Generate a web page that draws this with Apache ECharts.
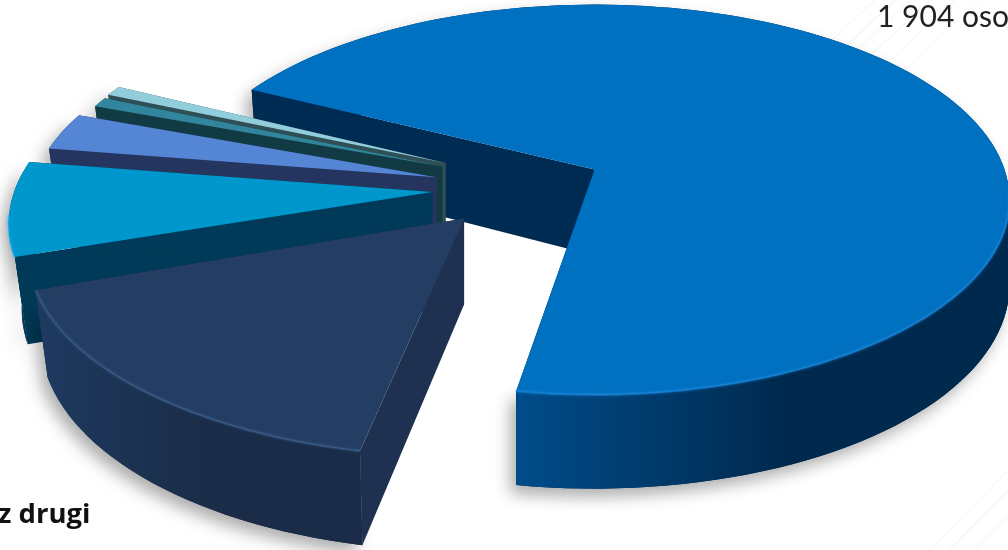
<!DOCTYPE html>
<html><head><meta charset="utf-8">
<style>html,body{margin:0;padding:0;background:#fff;overflow:hidden}#c{width:1008px;height:550px}</style>
<script src="https://cdn.jsdelivr.net/npm/echarts@6/dist/echarts.min.js"></script>
</head><body><div id="c"></div>
<script>
// Data (clockwise from the large slice)
const sliceNames = ['Slice 1', 'Slice 2', 'Slice 3', 'Slice 4', 'Slice 5', 'Slice 6'];
const sliceValues = [1904, 458, 218, 86, 23, 23];
const labelTexts = ['1 904 osoby', 'z drugi'];

// Styles (same order as the data)
const explode = [0.259, 0.16, 0.166, 0.16, 0.16, 0.16];
const nudgeX = [0, 6, 0, 0, 3, 5];
const nudgeY = [4, 7, 1, -3, -10, -12];
const radiusScale = [1, 1.05, 1.02, 0.98, 0.95, 0.95];
const padStart = [0, 2.4, 1.3, 0, 0, 0];
const topColors = ['#0070C0', '#243E63', '#0097CC', '#5585D5', '#31859C', '#92CDDC'];
const rimColors = ['#1a8ae0', '#3c6090', '#00a8ec', '#6b98e0', '#3c96ad', '#a4d8e4'];
const wallNear = ['#004C8A', '#1E3A60', '#005272', '#25355F', '#123A44', '#3A5A60'];
const wallFar = ['#00294E', '#1A2C47', '#003A58', '#25355F', '#123A44', '#3A5A60'];
const radialWall = ['#002B52', '#1E3150', '#003A58', '#25355F', '#123A44', '#2F4F55'];
// Far slices are painted first so nearer slices overlap them
const paintOrder = [0, 5, 4, 3, 2, 1];

// Projection of the tilted disc onto the page
const view = { cx: 500, cy: 188, A: 410, B: 190.4, k: 0.154, start: 296.6, vanishX: 440, lean: 0.03 };
const total = sliceValues.reduce((a, b) => a + b, 0);
const angles = [];
sliceValues.reduce((acc, v, i) => {
  const e = acc + v / total * 360;
  angles[i] = [acc, e];
  return e;
}, view.start);

const rad = d => d * Math.PI / 180;
function height(y) { return 84 + 10 * y; }
function project(ax, ay, th, r) {
  const x = r * Math.sin(rad(th)), y = -r * Math.cos(rad(th));
  const w = 1 - view.k * y;
  return { x: ax + view.A * x / w, y: ay + view.B * y / w, h: height(y), ny: y };
}
const lower = p => [p.x < view.vanishX ? p.x + (view.vanishX - p.x) * view.lean : p.x, p.y + p.h];

function renderItem(params, api) {
  const i = paintOrder[params.dataIndex];
  const mid = (angles[i][0] + angles[i][1]) / 2;
  const s = angles[i][0] + padStart[i], e = angles[i][1];
  const ax = view.cx + view.A * explode[i] * Math.sin(rad(mid)) + nudgeX[i];
  const ay = view.cy - view.B * explode[i] * Math.cos(rad(mid)) + nudgeY[i];
  const steps = Math.max(4, Math.ceil((e - s) / 2));
  const arc = [];
  for (let t = 0; t <= steps; t++) arc.push(project(ax, ay, s + (e - s) * t / steps, radiusScale[i]));
  const apexH = height(0) + 2;
  const first = arc[0], last = arc[arc.length - 1];
  const near = arc.filter(p => p.ny > 0.1);
  const rim = arc.filter(p => p.ny > 0.1);
  const xs = near.map(p => p.x);
  const outer = pts => pts.map(p => [p.x, p.y]).concat(pts.slice().reverse().map(lower));
  const apexLow = [ax, ay + apexH];
  const children = [
    { type: 'polygon', shape: { points: outer(arc) },
      style: { fill: wallFar[i], shadowBlur: 16, shadowColor: 'rgba(0,0,0,0.32)', shadowOffsetX: -6, shadowOffsetY: 8 } },
    { type: 'polygon', shape: { points: [[first.x, first.y], [ax, ay], apexLow, lower(first)] },
      style: { fill: radialWall[i] } },
    { type: 'polygon', shape: { points: [[last.x, last.y], [ax, ay], apexLow, lower(last)] },
      style: { fill: radialWall[i] } }
  ];
  if (near.length > 1) {
    const minX = Math.min(...xs), maxX = Math.max(...xs);
    const grad = new echarts.graphic.LinearGradient(minX, 0, minX + (maxX - minX) * 0.55, 0,
      [{ offset: 0, color: wallNear[i] }, { offset: 1, color: wallFar[i] }], true);
    children.push({ type: 'polygon', shape: { points: outer(near) }, style: { fill: grad } });
  }
  children.push({ type: 'polygon', shape: { points: [[ax, ay]].concat(arc.map(p => [p.x, p.y])) },
    style: { fill: topColors[i] } });
  if (rim.length > 1) {
    children.push({ type: 'polyline', shape: { points: rim.map(p => [p.x, p.y]) },
      style: { fill: null, stroke: rimColors[i], lineWidth: 2, opacity: 0.55, shadowBlur: 3, shadowColor: rimColors[i] } });
  }
  return { type: 'group', children };
}

// Faint diagonal streaks of the page background
const streak = (x1, y1, x2, y2, op) => ({
  type: 'line', silent: true, z: -1,
  shape: { x1, y1, x2, y2 },
  style: { stroke: 'rgba(120,120,120,' + op + ')', lineWidth: 2 }
});
const streaks = [
  streak(800, 70, 875, 0, 0.04), streak(815, 75, 895, 0, 0.05), streak(835, 70, 910, 0, 0.04),
  streak(860, 65, 930, 0, 0.05), streak(880, 70, 955, 0, 0.04), streak(905, 70, 980, 0, 0.03),
  streak(930, 550, 1008, 470, 0.04), streak(950, 550, 1008, 490, 0.05), streak(975, 550, 1008, 516, 0.04),
  streak(0, 230, 60, 170, 0.03), streak(0, 290, 40, 250, 0.03)
];

const chart = echarts.init(document.getElementById('c'), null, { renderer: 'canvas' });
chart.setOption({
  animation: false,
  backgroundColor: '#fff',
  graphic: streaks.concat([
    { type: 'text', left: 877, top: 2, z: 10, style: { text: labelTexts[0], fontFamily: 'Lato', fontSize: 30, fill: '#222' } },
    { type: 'text', left: -2, top: 501, z: 10, style: { text: labelTexts[1], fontFamily: 'Open Sans', fontWeight: 'bold', fontSize: 27.5, fill: '#111' } }
  ]),
  series: [{
    type: 'custom',
    coordinateSystem: 'none',
    silent: true,
    renderItem,
    data: paintOrder.map(i => ({ name: sliceNames[i], value: sliceValues[i] }))
  }]
});
</script></body></html>
